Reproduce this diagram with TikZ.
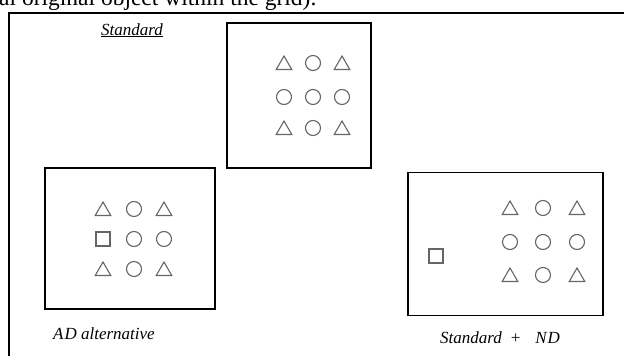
\documentclass[tikz,border=0pt]{standalone}
\usepackage{fontspec}
\setmainfont{Liberation Serif}
\usetikzlibrary{shapes.geometric}
\begin{document}
\begin{tikzpicture}[x=1pt,y=-1pt,
  panel/.style={draw=black,line width=1.6pt},
  frame/.style={draw=black,line width=1.2pt},
  shp/.style={draw=black!60,line width=1.1pt,inner sep=0pt,outer sep=0pt},
  circ/.style={shp,circle,minimum size=15pt},
  tri/.style={shp,regular polygon,regular polygon sides=3,minimum size=18pt,yshift=-2pt},
  sqr/.style={shp,rectangle,minimum size=14pt},
  lbl/.style={font=\fontsize{17}{20}\selectfont\itshape,inner sep=0pt}]
\useasboundingbox (0,0) rectangle (624,356);
\clip (0,0) rectangle (624,356);
% cut-off text at the top
\node[font=\fontsize{23.5}{27}\selectfont,anchor=base west,inner sep=0pt] (toptext) at (-1,5.5) {al original object within the grid).};
% outer frame
\coordinate (fTL) at (9,13);
\coordinate (fTR) at (630,13);
\coordinate (fBL) at (9,362);
\draw[frame] (fBL) -- (fTL) -- (fTR);
% panels
\node[panel,minimum width=144pt,minimum height=145pt,inner sep=0pt] (top) at (299,95.5) {};
\node[panel,minimum width=170pt,minimum height=141pt,inner sep=0pt] (left) at (130,238.5) {};
\node[panel,minimum width=195pt,minimum height=143pt,inner sep=0pt] (right) at (505.5,244) {};
% labels
\node[lbl,anchor=base west] (lstd) at (101,35) {\underline{Standard}};
\node[lbl,anchor=base west] (lad) at (53,339) {A\kern1ptD alternative};
\node[lbl,anchor=base west] (lnd) at (440,343) {Standard\hspace{8pt}+\hspace{14pt}N\kern1ptD};
% top grid
\node[tri] (t11) at (284,63) {};
\node[circ] (t12) at (313,63) {};
\node[tri] (t13) at (342,63) {};
\node[circ] (t21) at (284,97) {};
\node[circ] (t22) at (313,97) {};
\node[circ] (t23) at (342,97) {};
\node[tri] (t31) at (284,128) {};
\node[circ] (t32) at (313,128) {};
\node[tri] (t33) at (342,128) {};
% left grid
\node[tri] (a11) at (103,209) {};
\node[circ] (a12) at (134,209) {};
\node[tri] (a13) at (164,209) {};
\node[sqr] (a21) at (103,239) {};
\node[circ] (a22) at (134,239) {};
\node[circ] (a23) at (164,239) {};
\node[tri] (a31) at (103,269) {};
\node[circ] (a32) at (134,269) {};
\node[tri] (a33) at (164,269) {};
% right grid
\node[tri] (b11) at (510,208) {};
\node[circ] (b12) at (543,208) {};
\node[tri] (b13) at (577,208) {};
\node[circ] (b21) at (510,242) {};
\node[circ] (b22) at (543,242) {};
\node[circ] (b23) at (577,242) {};
\node[tri] (b31) at (510,275) {};
\node[circ] (b32) at (543,275) {};
\node[tri] (b33) at (577,275) {};
\node[sqr] (bsq) at (436,256) {};
\end{tikzpicture}
\end{document}
